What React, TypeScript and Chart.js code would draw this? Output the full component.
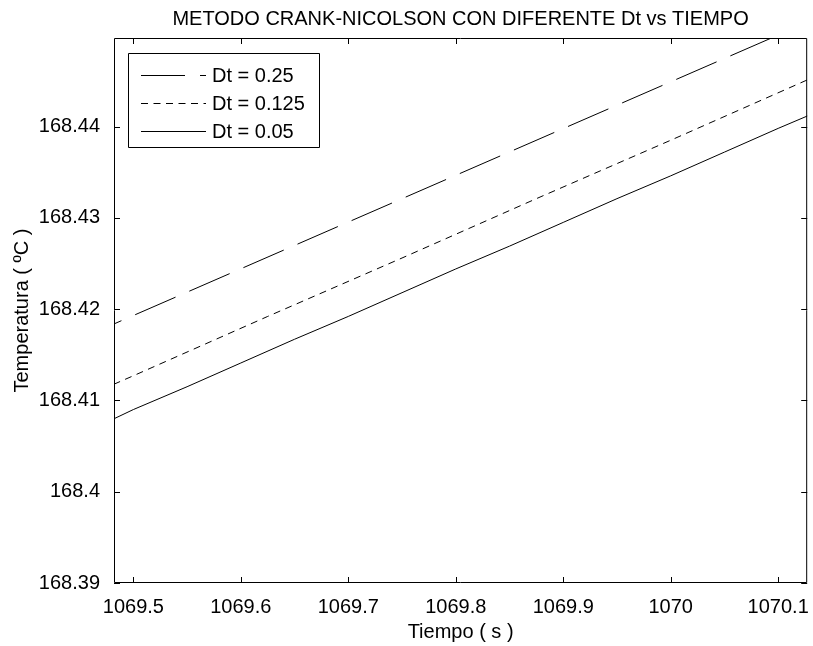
import React, { useEffect, useRef } from "react";
import { Chart, registerables } from "chart.js";

Chart.register(...registerables);

const seriesLabels = ["Dt = 0.25", "Dt = 0.125", "Dt = 0.05"];

const timeDt025 = [1069.25, 1069.5, 1069.75, 1070.0, 1070.25];
const tempDt025 = [168.4065, 168.4193, 168.4321, 168.4449, 168.4577];

const timeDt0125 = [1069.375, 1069.5, 1069.625, 1069.75, 1069.875, 1070.0, 1070.125, 1070.25];
const tempDt0125 = [168.4063, 168.4127, 168.4192, 168.4256, 168.4321, 168.4385, 168.445, 168.4514];

const timeDt005 = [
  1069.45, 1069.5, 1069.55, 1069.6, 1069.65, 1069.7, 1069.75, 1069.8, 1069.85, 1069.9, 1069.95,
  1070.0, 1070.05, 1070.1, 1070.15,
];
const tempDt005 = [
  168.4062, 168.409, 168.4115, 168.4141, 168.4167, 168.4192, 168.4218, 168.4244, 168.4269,
  168.4295, 168.4321, 168.4346, 168.4372, 168.4398, 168.4423,
];

const xLimits = [1069.482, 1070.127];
const yLimits = [168.39, 168.4497];
const xStep = 0.1;
const yStep = 0.01;

const chartTitle = "METODO CRANK-NICOLSON CON DIFERENTE Dt vs TIEMPO";
const xTitle = "Tiempo ( s )";
const yTitle = "Temperatura ( ºC )";

const FONT = "Liberation Sans, Arial, Helvetica, sans-serif";
const FS = 20;

const toPoints = (xs: number[], ys: number[]) => xs.map((x, i) => ({ x, y: ys[i] }));
const fmt = (v: number) => String(Number(v.toFixed(6)));

const boxTicksPlugin = {
  id: "boxTicks",
  afterDraw(chart: any) {
    const { ctx, chartArea } = chart;
    const { left, right, top, bottom } = chartArea;
    const xs = chart.scales.x;
    const ys = chart.scales.y;
    const len = 6;
    ctx.save();
    ctx.strokeStyle = "#000";
    ctx.lineWidth = 1;
    ctx.beginPath();
    ctx.rect(left + 0.5, top + 0.5, right - left - 1, bottom - top - 1);
    ctx.stroke();
    ctx.beginPath();
    xs.ticks.forEach((t: any) => {
      const px = Math.round(xs.getPixelForValue(t.value)) + 0.5;
      ctx.moveTo(px, bottom);
      ctx.lineTo(px, bottom - len);
      ctx.moveTo(px, top);
      ctx.lineTo(px, top + len);
    });
    ys.ticks.forEach((t: any) => {
      const py = Math.round(ys.getPixelForValue(t.value)) + 0.5;
      ctx.moveTo(left, py);
      ctx.lineTo(left + len, py);
      ctx.moveTo(right, py);
      ctx.lineTo(right - len, py);
    });
    ctx.stroke();

    // legend inside the axes (top-left)
    const bx = left + 14;
    const by = top + 15;
    const bw = 191;
    const bh = 94;
    ctx.fillStyle = "#fff";
    ctx.fillRect(bx, by, bw, bh);
    ctx.beginPath();
    ctx.rect(bx + 0.5, by + 0.5, bw, bh);
    ctx.stroke();
    ctx.font = `${FS}px ${FONT}`;
    ctx.textBaseline = "middle";
    ctx.textAlign = "left";
    chart.data.datasets.forEach((ds: any, i: number) => {
      const cy = by + 22 + i * 28 + 0.5;
      ctx.save();
      ctx.setLineDash(ds.borderDash || []);
      ctx.beginPath();
      ctx.moveTo(bx + 13, cy);
      ctx.lineTo(bx + 78, cy);
      ctx.stroke();
      ctx.restore();
      ctx.fillStyle = "#000";
      ctx.fillText(ds.label, bx + 84, cy + 1);
    });
    ctx.restore();
  },
};

export default function App() {
  const ref = useRef<HTMLCanvasElement | null>(null);
  useEffect(() => {
    document.body.style.margin = "0";
    if (!ref.current) return;
    const chart = new Chart(ref.current, {
      type: "line",
      data: {
        datasets: [
          {
            label: seriesLabels[0],
            data: toPoints(timeDt025, tempDt025),
            borderColor: "#000",
            borderWidth: 1,
            borderDash: [44, 15],
            pointRadius: 0,
            fill: false,
          },
          {
            label: seriesLabels[1],
            data: toPoints(timeDt0125, tempDt0125),
            borderColor: "#000",
            borderWidth: 1,
            borderDash: [7, 5.5],
            pointRadius: 0,
            fill: false,
          },
          {
            label: seriesLabels[2],
            data: toPoints(timeDt005, tempDt005),
            borderColor: "#000",
            borderWidth: 1,
            pointRadius: 0,
            fill: false,
          },
        ],
      },
      options: {
        responsive: false,
        animation: false,
        layout: { padding: { left: 0, right: 4, top: 0, bottom: 0 } },
        plugins: {
          legend: { display: false },
          tooltip: { enabled: false },
          title: {
            display: true,
            fullSize: false,
            text: chartTitle,
            color: "#000",
            font: { family: FONT, size: FS, weight: "normal" },
            padding: { top: 7, bottom: 7 },
          },
        },
        scales: {
          x: {
            type: "linear",
            min: xLimits[0],
            max: xLimits[1],
            grid: { display: false },
            border: { display: false },
            ticks: {
              stepSize: xStep,
              includeBounds: false,
              color: "#000",
              font: { family: FONT, size: FS },
              padding: 4,
              maxRotation: 0,
              callback: (v: any) => fmt(Number(v)),
            },
            title: {
              display: true,
              text: xTitle,
              color: "#000",
              font: { family: FONT, size: FS },
              padding: { top: 2, bottom: 2 },
            },
            afterFit: (s: any) => {
              s.height = 63;
            },
          },
          y: {
            type: "linear",
            min: yLimits[0],
            max: yLimits[1],
            grid: { display: false },
            border: { display: false },
            ticks: {
              stepSize: yStep,
              includeBounds: false,
              color: "#000",
              font: { family: FONT, size: FS },
              padding: 6,
              callback: (v: any) => fmt(Number(v)),
            },
            title: {
              display: true,
              text: yTitle,
              color: "#000",
              font: { family: FONT, size: FS },
              padding: { top: 10, bottom: 2 },
            },
            afterFit: (s: any) => {
              s.width = 114;
            },
          },
        },
      },
      plugins: [boxTicksPlugin],
    });
    return () => chart.destroy();
  }, []);
  return <canvas ref={ref} width={813} height={646} style={{ display: "block" }} />;
}
